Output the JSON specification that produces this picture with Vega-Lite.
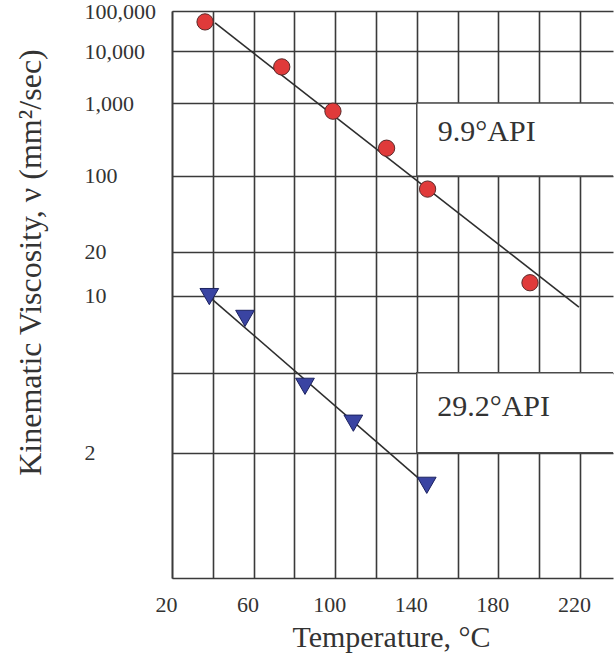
{
  "$schema": "https://vega.github.io/schema/vega-lite/v6.json",
  "width": 441,
  "height": 567,
  "autosize": {"type": "none"},
  "padding": {"left": 172, "top": 11, "right": 1, "bottom": 76},
  "background": "white",
  "config": {"view": {"stroke": null}, "font": "Liberation Serif"},
  "datasets": {
    "points": [
      {"series": "9.9°API", "T": 36.2, "v": 50900},
      {"series": "9.9°API", "T": 73.8, "v": 4640},
      {"series": "9.9°API", "T": 98.9, "v": 737},
      {"series": "9.9°API", "T": 125.2, "v": 216},
      {"series": "9.9°API", "T": 145.3, "v": 72},
      {"series": "9.9°API", "T": 195.5, "v": 12.1},
      {"series": "29.2°API", "T": 38.3, "v": 9.9},
      {"series": "29.2°API", "T": 55.8, "v": 7.4},
      {"series": "29.2°API", "T": 85.2, "v": 3.5},
      {"series": "29.2°API", "T": 108.9, "v": 2.52},
      {"series": "29.2°API", "T": 144.9, "v": 1.59}
    ],
    "fits": [
      {"series": "9.9°API", "T": 41.1, "v": 47700},
      {"series": "9.9°API", "T": 219.5, "v": 8.58},
      {"series": "29.2°API", "T": 38.3, "v": 9.87},
      {"series": "29.2°API", "T": 144.9, "v": 1.59}
    ],
    "boxes": [
      {"T": 140, "T2": 260, "v": 1000, "v2": 100},
      {"T": 140, "T2": 260, "v": 4, "v2": 2}
    ],
    "labels": [
      {"text": "9.9°API", "T": 150.3, "v": 360},
      {"text": "29.2°API", "T": 150, "v": 2.9}
    ]
  },
  "layer": [
    {
      "data": {"name": "boxes"},
      "transform": [
        {"calculate": "log(log(datum.v + 0.7) / LN10) / LN10", "as": "W"},
        {"calculate": "log(log(datum.v2 + 0.7) / LN10) / LN10", "as": "W2"}
      ],
      "mark": {"type": "rect", "fill": "white", "stroke": "#4a4a4a", "strokeWidth": 1.5, "clip": true},
      "encoding": {
        "x": {
          "field": "T", "type": "quantitative",
          "scale": {"domain": [20, 236.2], "nice": false, "zero": false},
          "axis": {
            "values": [20, 40, 60, 80, 100, 120, 140, 160, 180, 200, 220],
            "grid": true, "gridColor": "#3a3a3a", "gridWidth": 1.6, "gridOpacity": 1,
            "domain": true, "domainColor": "#3a3a3a", "domainWidth": 1.6,
            "ticks": false, "labelFlush": false, "labelOverlap": false,
            "labelExpr": "datum.value % 40 == 20 ? datum.label : ''",
            "labelFont": "Liberation Serif", "labelFontSize": 22, "labelColor": "#333333",
            "labelPadding": 16, "labelOffset": -6, "labelBaseline": "top",
            "title": "Temperature, °C",
            "titleFont": "Liberation Serif", "titleFontSize": 30, "titleFontWeight": "normal",
            "titleColor": "#333333", "titleBaseline": "alphabetic", "titleY": 68, "titleX": 219
          }
        },
        "x2": {"field": "T2"},
        "y": {
          "field": "W", "type": "quantitative",
          "scale": {"domain": [-0.66723, 0.69897027], "nice": false, "zero": false},
          "axis": {
            "values": [0.69897027, 0.6020633, 0.4771652, 0.3016874, 0.119246, 0.012577, -0.17257, -0.365156],
            "grid": true, "gridColor": "#3a3a3a", "gridWidth": 1.6, "gridOpacity": 1,
            "domain": true, "domainColor": "#3a3a3a", "domainWidth": 1.6,
            "ticks": false, "labelFlush": false, "labelOverlap": false,
            "labelExpr": "abs(datum.value + 0.17257) < 0.001 ? '' : format(round(pow(10, pow(10, datum.value)) - 0.7), ',')",
            "labelFont": "Liberation Serif", "labelFontSize": 22, "labelColor": "#333333",
            "labelAlign": "left", "labelPadding": 88, "labelBaseline": "middle",
            "title": "Kinematic Viscosity, ν (mm²/sec)",
            "titleFont": "Liberation Serif", "titleFontSize": 32, "titleFontWeight": "normal",
            "titleColor": "#333333", "titleAngle": -90, "titleAlign": "center",
            "titleBaseline": "middle", "titleX": -142, "titleY": 251
          }
        },
        "y2": {"field": "W2"}
      }
    },
    {
      "data": {"name": "fits"},
      "transform": [
        {"calculate": "log(log(datum.v + 0.7) / LN10) / LN10", "as": "W"}
      ],
      "mark": {"type": "line", "color": "#2e2e2e", "strokeWidth": 1.6},
      "encoding": {
        "x": {"field": "T", "type": "quantitative"},
        "y": {"field": "W", "type": "quantitative"},
        "detail": {"field": "series"}
      }
    },
    {
      "data": {"name": "points"},
      "transform": [
        {"calculate": "log(log(datum.v + 0.7) / LN10) / LN10", "as": "W"}
      ],
      "mark": {"type": "point", "filled": true, "opacity": 1, "strokeWidth": 1},
      "encoding": {
        "x": {"field": "T", "type": "quantitative"},
        "y": {"field": "W", "type": "quantitative"},
        "shape": {
          "field": "series", "type": "nominal",
          "scale": {"domain": ["9.9°API", "29.2°API"], "range": ["circle", "triangle-down"]},
          "legend": null
        },
        "fill": {
          "field": "series", "type": "nominal",
          "scale": {"domain": ["9.9°API", "29.2°API"], "range": ["#e03a3a", "#3a44a2"]},
          "legend": null
        },
        "stroke": {
          "field": "series", "type": "nominal",
          "scale": {"domain": ["9.9°API", "29.2°API"], "range": ["#5a2a2a", "#1c2260"]},
          "legend": null
        },
        "size": {
          "field": "series", "type": "nominal",
          "scale": {"domain": ["9.9°API", "29.2°API"], "range": [265, 350]},
          "legend": null
        }
      }
    },
    {
      "data": {"name": "labels"},
      "transform": [
        {"calculate": "log(log(datum.v + 0.7) / LN10) / LN10", "as": "W"}
      ],
      "mark": {"type": "text", "align": "left", "baseline": "middle", "font": "Liberation Serif", "fontSize": 30, "color": "#333333"},
      "encoding": {
        "x": {"field": "T", "type": "quantitative"},
        "y": {"field": "W", "type": "quantitative"},
        "text": {"field": "text"}
      }
    }
  ]
}
